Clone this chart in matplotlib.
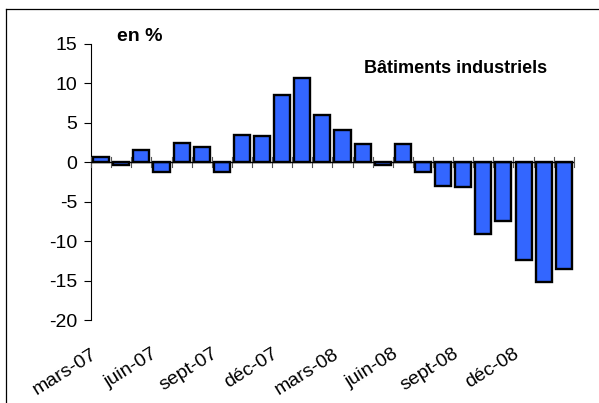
import matplotlib
matplotlib.use('Agg')
import matplotlib.pyplot as plt
from matplotlib.lines import Line2D
import numpy as np

plt.rcParams['font.family'] = ['Liberation Sans', 'DejaVu Sans']

# monthly values, mars-07 .. févr-09 (en %)
months = ['mars-07', 'avr-07', 'mai-07', 'juin-07', 'juil-07', 'août-07',
          'sept-07', 'oct-07', 'nov-07', 'déc-07', 'janv-08', 'févr-08',
          'mars-08', 'avr-08', 'mai-08', 'juin-08', 'juil-08', 'août-08',
          'sept-08', 'oct-08', 'nov-08', 'déc-08', 'janv-09', 'févr-09']
values = [0.6, -0.35, 1.5, -1.3, 2.4, 1.9, -1.2, 3.4, 3.3, 8.55, 10.6, 6.0,
          4.05, 2.3, -0.4, 2.35, -1.3, -3.0, -3.2, -9.1, -7.4, -12.35, -15.2, -13.5]
tick_labels = ['mars-07', 'juin-07', 'sept-07', 'déc-07',
               'mars-08', 'juin-08', 'sept-08', 'déc-08']
yticks = [-20, -15, -10, -5, 0, 5, 10, 15]

fig = plt.figure(figsize=(5.99, 4.03), dpi=100)
ax = fig.add_axes([0.152, 0.205, 0.806, 0.687])

x = np.arange(len(values))
ax.bar(x, values, width=0.8, color='#3366ff', edgecolor='black', linewidth=1.7, zorder=3)

ax.set_xlim(-0.5, len(values) - 0.5)
ax.set_ylim(-20, 15)
ax.set_yticks(yticks)
ax.set_yticklabels([str(v) for v in yticks], fontsize=14)
ax.tick_params(axis='y', direction='out', length=5, width=0.8, pad=5)

# category label every 3 months
ax.set_xticks(x[::3] - 0.5)
ax.set_xticklabels(tick_labels, rotation=32, ha='right', va='top',
                   rotation_mode='anchor', fontsize=14)
ax.tick_params(axis='x', length=0, pad=18)

# x axis at zero with boundary ticks crossing it
for b in np.arange(-0.5, len(values), 1.0):
    ax.plot([b, b], [-0.6, 0.6], color='#555555', lw=0.8, zorder=4, clip_on=False)
ax.axhline(0, color='black', lw=1.0, zorder=4)

for s in ['top', 'right', 'bottom']:
    ax.spines[s].set_visible(False)
ax.spines['left'].set_linewidth(0.8)

fig.text(0.195, 0.909, 'en %', fontsize=14, fontweight='bold', va='center')
fig.text(0.761, 0.831, 'Bâtiments industriels', fontsize=13, fontweight='bold',
         ha='center', va='center')

# frame around figure (only top and left edges fall inside the picture)
fig.lines.append(Line2D([0.01, 0.01], [0.0, 0.977], transform=fig.transFigure,
                        color='black', lw=0.9))
fig.lines.append(Line2D([0.01, 1.0], [0.977, 0.977], transform=fig.transFigure,
                        color='black', lw=0.9))

fig.savefig('out.png', dpi=100)
